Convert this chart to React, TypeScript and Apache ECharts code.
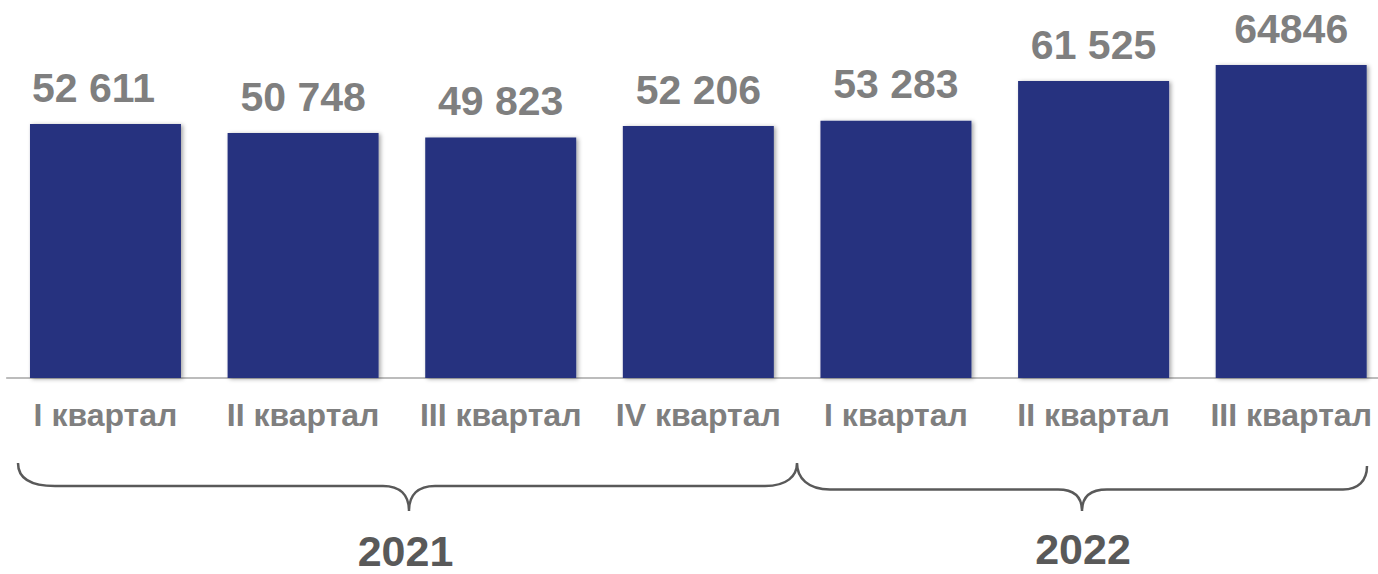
import React, { useEffect, useRef } from "react";
import * as echarts from "echarts";

const categories = ["I квартал", "II квартал", "III квартал", "IV квартал", "I квартал", "II квартал", "III квартал"];
const values = [52611, 50748, 49823, 52206, 53283, 61525, 64846];
const valueLabels = ["52 611", "50 748", "49 823", "52 206", "53 283", "61 525", "64846"];
const years = ["2021", "2022"];

const FONT = "'Liberation Sans', Arial, sans-serif";

const braceD =
  "M18,463 C18,478 30,486 55,486 L383,486 C400,486 409,495 409,511 C409,495 418,486 435,486 L765,486 C787,486 797,476 797,463 " +
  "M797,463 C797,478 808,489.5 830,489.5 L1058,489.5 C1074,489.5 1082,497 1082,511 C1082,497 1090,489.5 1107,489.5 L1343,489.5 C1358,489.5 1367,481 1367,466";

let registered = false;

export default function App() {
  const ref = useRef<HTMLDivElement>(null);
  useEffect(() => {
    document.body.style.overflow = "hidden";
    if (!registered) {
      echarts.graphic.registerShape("brace", echarts.graphic.extendPath(braceD, {}) as any);
      registered = true;
    }
    const chart = echarts.init(ref.current!, undefined, { renderer: "svg" });
    chart.setOption({
      animation: false,
      backgroundColor: "#ffffff",
      grid: { left: 6.67, right: 0, top: 40.2, bottom: 196, containLabel: false },
      xAxis: {
        type: "category",
        data: categories,
        axisLine: { show: true, lineStyle: { color: "#a6a6a6", width: 1.5 } },
        axisTick: { show: false },
        axisLabel: {
          interval: 0,
          margin: 21,
          color: "#7f7f7f",
          fontSize: 32,
          fontWeight: "bold",
          fontFamily: FONT,
        },
      },
      yAxis: {
        type: "value",
        min: 0,
        max: 70000,
        show: false,
        splitLine: { show: false },
      },
      series: [
        {
          type: "bar",
          barWidth: 151,
          data: values.map((v, i) => ({
            value: v,
            label: i === 0 ? { offset: [-12, 0] } : undefined,
          })),
          itemStyle: {
            color: "#27337f",
            shadowColor: "rgba(0,0,0,0.35)",
            shadowBlur: 4,
            shadowOffsetX: 2,
            shadowOffsetY: 1,
          },
          label: {
            show: true,
            position: "top",
            distance: 16,
            color: "#7f7f7f",
            fontSize: 41,
            fontWeight: "bold",
            fontFamily: FONT,
            formatter: (p: any) => valueLabels[p.dataIndex],
          },
        },
      ],
      graphic: [
        {
          type: "brace",
          x: 0,
          y: 0,
          shape: {},
          style: { fill: "none", stroke: "#595959", lineWidth: 2.5 },
        },
        {
          type: "text",
          x: 405.5,
          y: 551,
          style: {
            text: years[0],
            fill: "#595959",
            font: `bold 43px ${FONT}`,
            lineHeight: 34,
            textAlign: "center",
            textVerticalAlign: "middle",
          },
        },
        {
          type: "text",
          x: 1083,
          y: 549,
          style: {
            text: years[1],
            fill: "#595959",
            font: `bold 43px ${FONT}`,
            lineHeight: 34,
            textAlign: "center",
            textVerticalAlign: "middle",
          },
        },
      ],
    });
    return () => chart.dispose();
  }, []);
  return (
    <div
      ref={ref}
      style={{ position: "fixed", left: 0, top: 0, width: 1390.3, height: 574 }}
    />
  );
}
